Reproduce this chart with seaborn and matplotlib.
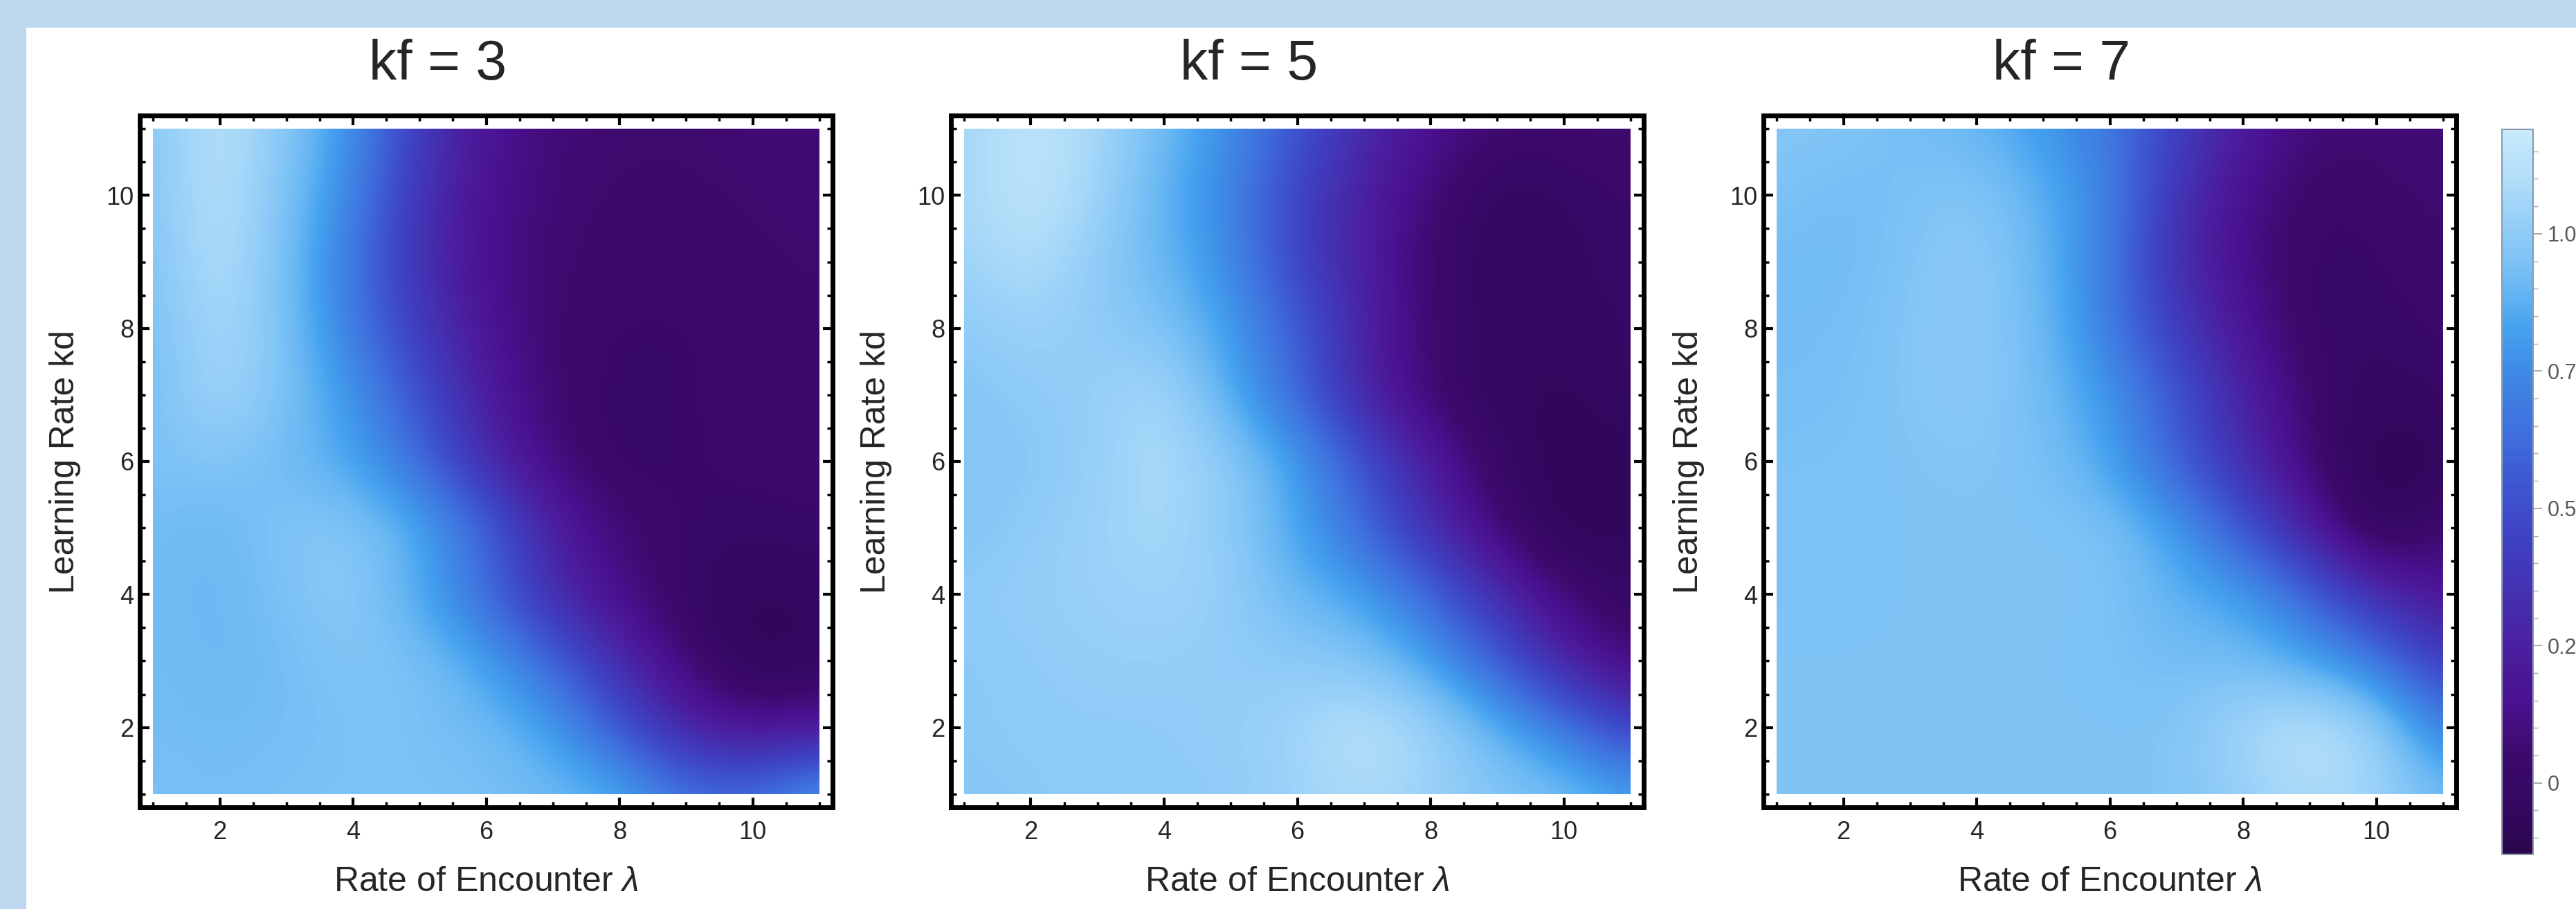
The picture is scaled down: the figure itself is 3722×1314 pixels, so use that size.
import numpy as np
import matplotlib
matplotlib.use("Agg")
import matplotlib.pyplot as plt
from matplotlib.patches import Rectangle
from matplotlib.colors import LinearSegmentedColormap
from matplotlib.ticker import MultipleLocator, FixedLocator
import seaborn as sns

# grid of the simulation: rate of encounter (x) and learning rate kd (y)
rate_encounter = [1, 2, 3, 4, 5, 6, 7, 8, 9, 10, 11]
learning_rate = [1, 2, 3, 4, 5, 6, 7, 8, 9, 10, 11]
kf_values = [3, 5, 7]

# rows go from kd = 1 (first) to kd = 11 (last), columns lambda = 1..11
kf3_values = [
    [0.95, 0.93, 0.95, 0.95, 0.95, 0.95, 0.92, 0.88, 0.68, 0.66, 0.85],
    [0.93, 0.92, 0.93, 0.95, 0.95, 0.92, 0.83, 0.55, 0.25, 0.15, 0.18],
    [0.93, 0.90, 0.93, 0.97, 0.95, 0.84, 0.62, 0.30, 0.07, -0.10, -0.05],
    [0.92, 0.90, 0.95, 1.00, 0.85, 0.63, 0.30, 0.12, 0.00, -0.08, -0.04],
    [0.93, 0.90, 0.97, 0.98, 0.87, 0.62, 0.25, 0.07, 0.02, 0.00, 0.02],
    [0.95, 0.97, 0.92, 0.84, 0.64, 0.30, 0.08, 0.00, 0.02, 0.04, 0.05],
    [0.93, 1.07, 0.95, 0.80, 0.52, 0.22, 0.06, 0.00, 0.02, 0.04, 0.05],
    [0.93, 1.09, 0.95, 0.70, 0.40, 0.17, 0.05, 0.02, 0.02, 0.04, 0.05],
    [0.96, 1.12, 0.94, 0.68, 0.33, 0.14, 0.06, 0.04, 0.04, 0.05, 0.06],
    [0.96, 1.14, 0.95, 0.74, 0.35, 0.15, 0.07, 0.05, 0.05, 0.06, 0.07],
    [0.97, 1.14, 0.98, 0.78, 0.40, 0.18, 0.08, 0.06, 0.06, 0.07, 0.08],
]

kf5_values = [
    [0.98, 0.99, 1.00, 1.00, 1.00, 1.04, 1.08, 1.03, 0.97, 0.95, 0.84],
    [0.99, 1.00, 1.00, 1.00, 1.02, 1.05, 1.14, 1.05, 0.90, 0.70, 0.44],
    [0.99, 1.00, 1.02, 1.02, 1.00, 1.00, 0.96, 0.84, 0.58, 0.26, 0.07],
    [1.00, 1.02, 1.03, 1.05, 1.02, 0.90, 0.84, 0.62, 0.32, 0.07, -0.02],
    [0.97, 1.00, 1.04, 1.07, 1.00, 0.84, 0.62, 0.32, 0.07, -0.10, -0.07],
    [0.97, 0.98, 1.02, 1.09, 1.00, 0.83, 0.54, 0.22, 0.00, -0.10, -0.06],
    [0.97, 1.00, 1.02, 1.08, 0.86, 0.62, 0.26, 0.05, -0.05, -0.07, -0.03],
    [1.00, 1.04, 1.00, 0.96, 0.82, 0.58, 0.26, 0.06, -0.05, -0.04, 0.00],
    [1.04, 1.10, 1.00, 0.90, 0.76, 0.45, 0.24, 0.04, -0.05, -0.03, 0.02],
    [1.06, 1.16, 1.05, 0.88, 0.73, 0.45, 0.24, 0.08, -0.05, -0.01, 0.03],
    [1.05, 1.15, 1.07, 0.92, 0.76, 0.54, 0.30, 0.16, 0.06, 0.05, 0.07],
]

kf7_values = [
    [0.96, 0.96, 0.96, 0.96, 0.96, 0.96, 0.96, 1.02, 1.08, 1.05, 0.92],
    [0.96, 0.96, 0.96, 0.96, 0.96, 0.96, 0.96, 1.06, 1.15, 1.05, 0.70],
    [0.96, 0.96, 0.96, 0.96, 0.96, 0.95, 0.93, 0.93, 0.84, 0.70, 0.40],
    [0.95, 0.95, 0.96, 0.96, 0.96, 0.96, 0.88, 0.83, 0.62, 0.32, 0.17],
    [0.95, 0.95, 0.96, 0.96, 0.96, 0.96, 0.82, 0.55, 0.22, -0.10, 0.07],
    [0.95, 0.95, 0.96, 0.97, 0.95, 0.84, 0.58, 0.32, 0.07, -0.12, -0.07],
    [0.93, 0.94, 0.97, 0.99, 0.93, 0.80, 0.55, 0.26, 0.05, -0.05, 0.00],
    [0.93, 0.93, 0.97, 1.00, 0.92, 0.70, 0.40, 0.18, 0.00, 0.00, 0.04],
    [0.92, 0.92, 0.96, 1.00, 0.90, 0.70, 0.32, 0.13, 0.00, 0.02, 0.05],
    [0.96, 0.92, 0.95, 0.98, 0.88, 0.73, 0.35, 0.14, 0.02, 0.04, 0.07],
    [0.97, 0.97, 0.93, 0.90, 0.80, 0.68, 0.44, 0.22, 0.08, 0.07, 0.09],
]

panels = [kf3_values, kf5_values, kf7_values]

cbar_ticks = [0, 0.25, 0.5, 0.75, 1.0]
cbar_ticklabels = ["0", "0.25", "0.50", "0.75", "1.00"]
vmin, vmax = -0.13, 1.19

# colour stops (value, colour)
stop_values = [-0.13, -0.05, 0.05, 0.15, 0.25, 0.35, 0.45, 0.55,
               0.65, 0.75, 0.83, 0.90, 0.96, 1.03, 1.10, 1.19]
stop_colors = ["#2c064e", "#330860", "#3d0a6c", "#4a1190", "#4a20a0",
               "#4432b2", "#3f42c4", "#3e58d2", "#3f72de", "#3f8ae6",
               "#45a2ef", "#68b7f3", "#80c4f6", "#98d0f8", "#b2def9",
               "#c8eafb"]

sns.set_theme(style="white")
plt.rcParams["font.family"] = ["Liberation Sans", "DejaVu Sans"]
plt.rcParams["mathtext.fontset"] = "custom"
plt.rcParams["mathtext.rm"] = "Liberation Sans"
plt.rcParams["mathtext.it"] = "Liberation Sans:italic"

cmap = LinearSegmentedColormap.from_list(
    "deepsea",
    [((v - vmin) / (vmax - vmin), c) for v, c in zip(stop_values, stop_colors)],
)

W, H = 3723, 1314
fig = plt.figure(figsize=(W / 100, H / 100), dpi=100)
fig.patch.set_facecolor("#bdd7ee")
fig.add_artist(Rectangle((38 / W, 0), 1, (H - 40) / H, transform=fig.transFigure,
                         facecolor="white", edgecolor="none", zorder=-1))

ax_lefts = [202, 1374, 2548]
ax_w, ax_h, ax_bottom = 1001, 1000, H - 1167

im = None
for i, (vals, kf) in enumerate(zip(panels, kf_values)):
    ax = fig.add_axes([ax_lefts[i] / W, ax_bottom / H, ax_w / W, ax_h / H])
    ax.set_facecolor("white")
    z = np.array(vals)
    x0, x1 = rate_encounter[0], rate_encounter[-1]
    y0, y1 = learning_rate[0], learning_rate[-1]
    im = ax.imshow(z, origin="lower", cmap=cmap, vmin=vmin, vmax=vmax,
                   interpolation="bicubic", aspect="auto",
                   extent=(x0 - 0.5, x1 + 0.5, y0 - 0.5, y1 + 0.5))
    im.set_clip_path(Rectangle((x0, y0), x1 - x0, y1 - y0, transform=ax.transData))
    ax.set_xlim(0.8, 11.2)
    ax.set_ylim(0.8, 11.2)

    ax.xaxis.set_major_locator(FixedLocator([2, 4, 6, 8, 10]))
    ax.yaxis.set_major_locator(FixedLocator([2, 4, 6, 8, 10]))
    ax.xaxis.set_minor_locator(MultipleLocator(0.5))
    ax.yaxis.set_minor_locator(MultipleLocator(0.5))
    ax.tick_params(which="both", direction="in", top=True, right=True,
                   bottom=True, left=True, color="black")
    ax.tick_params(which="major", length=10, width=3)
    ax.tick_params(which="minor", length=5.5, width=2.5)
    ax.tick_params(axis="x", which="major", labelsize=26, pad=14)
    ax.tick_params(axis="y", which="major", labelsize=26, pad=6)
    for sp in ax.spines.values():
        sp.set_visible(True)
        sp.set_color("black")
        sp.set_linewidth(5)
    ax.grid(False)

    ax.set_xlabel(r"Rate of Encounter $\lambda$", fontsize=36)
    ax.xaxis.set_label_coords(0.5, -0.108)
    ax.xaxis.label.set_va("center")
    ax.set_ylabel("Learning Rate kd", fontsize=36)
    ax.yaxis.set_label_coords(-0.108, 0.5)
    ax.yaxis.label.set_va("center")

    cx = (ax_lefts[i] + ax_w / 2 - 70) / W
    fig.text(cx, (H - 115) / H, f"kf = {kf}", fontsize=58, ha="center", va="baseline")

cax = fig.add_axes([3615 / W, 79 / H, 45 / W, 1048 / H])
cb = fig.colorbar(im, cax=cax)
cb.set_ticks(cbar_ticks)
cb.set_ticklabels(cbar_ticklabels)
cb.ax.yaxis.set_minor_locator(MultipleLocator(0.05))
cb.ax.tick_params(which="major", length=9, width=1.2, color="#9a9a9a",
                  labelsize=22, labelcolor="#5a5a5a", pad=6)
cb.ax.tick_params(which="minor", length=5, width=1.0, color="#aaaaaa")
cb.outline.set_edgecolor("#8a9bb0")
cb.outline.set_linewidth(1.5)

fig.savefig("out.png", dpi=100, facecolor=fig.get_facecolor())
